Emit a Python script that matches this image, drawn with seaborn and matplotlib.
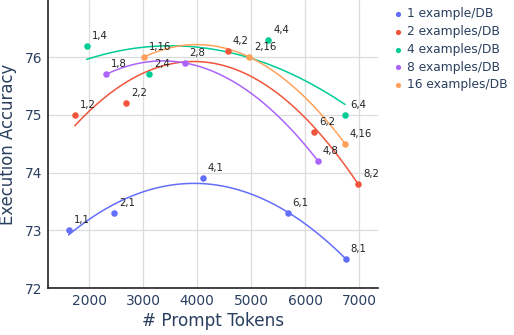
import matplotlib
matplotlib.use("Agg")
import matplotlib.pyplot as plt
import seaborn as sns

# data
series_names = ["1 example/DB", "2 examples/DB", "4 examples/DB", "8 examples/DB", "16 examples/DB"]
colors = ["#636EFA", "#EF553B", "#00CC96", "#AB63FA", "#FFA15A"]

tokens_1 = [1620, 2460, 4110, 5675, 6750]
acc_1 = [73.0, 73.3, 73.9, 73.3, 72.5]
labels_1 = ["1,1", "2,1", "4,1", "6,1", "8,1"]

tokens_2 = [1735, 2690, 4565, 6165, 6980]
acc_2 = [75.0, 75.2, 76.1, 74.7, 73.8]
labels_2 = ["1,2", "2,2", "4,2", "6,2", "8,2"]

tokens_4 = [1955, 3110, 5315, 6740]
acc_4 = [76.2, 75.7, 76.3, 75.0]
labels_4 = ["1,4", "2,4", "4,4", "6,4"]

tokens_8 = [2310, 3770, 6240]
acc_8 = [75.7, 75.9, 74.2]
labels_8 = ["1,8", "2,8", "4,8"]

tokens_16 = [3015, 4970, 6740]
acc_16 = [76.0, 76.0, 74.5]
labels_16 = ["1,16", "2,16", "4,16"]

all_x = [tokens_1, tokens_2, tokens_4, tokens_8, tokens_16]
all_y = [acc_1, acc_2, acc_4, acc_8, acc_16]
all_labels = [labels_1, labels_2, labels_4, labels_8, labels_16]

sns.set_style("white")
plt.rcParams["font.family"] = ["DejaVu Sans"]

fig = plt.figure(figsize=(5.14, 3.35), dpi=100)
ax = fig.add_axes([48 / 514, 1 - 288 / 335, 330 / 514, 288 / 335])

text_color = "#2a3f5f"

for name, color, xs, ys, labs in zip(series_names, colors, all_x, all_y, all_labels):
    # quadratic trendline
    sns.regplot(x=xs, y=ys, order=2, ci=None, scatter=False, ax=ax,
                line_kws=dict(color=color, lw=1.1))
    ax.scatter(xs, ys, s=22, color=color, label=name, zorder=3, linewidths=0)
    for x, y, t in zip(xs, ys, labs):
        ax.annotate(t, (x, y), xytext=(5, 10), textcoords="offset pixels",
                    fontsize=7.3, color="#222222", ha="left", va="center")

ax.set_xlim(1240, 7350)
ax.set_ylim(72, 76.99)
ax.set_xticks([2000, 3000, 4000, 5000, 6000, 7000])
ax.set_yticks([72, 73, 74, 75, 76])
ax.grid(True, color="#dcdcdc", lw=0.9)
ax.set_axisbelow(True)
for side in ["top", "right"]:
    ax.spines[side].set_visible(False)
for side in ["left", "bottom"]:
    ax.spines[side].set_color("#222222")
    ax.spines[side].set_linewidth(1.2)
ax.tick_params(axis="both", length=0, labelsize=9.9, colors=text_color, pad=4)

ax.set_xlabel("# Prompt Tokens", fontsize=12.2, color=text_color, labelpad=3)
ax.set_ylabel("Execution Accuracy", fontsize=11.9, color=text_color)
ax.yaxis.set_label_coords(-0.094, 0.5)

leg = ax.legend(loc="upper left", bbox_to_anchor=(1.019, 1.0), frameon=False,
                fontsize=8.8, handletextpad=0.3, handlelength=1.0,
                labelspacing=0.39, markerscale=0.8, borderaxespad=0.2)
for t in leg.get_texts():
    t.set_color(text_color)

fig.savefig("out.png", dpi=100)
